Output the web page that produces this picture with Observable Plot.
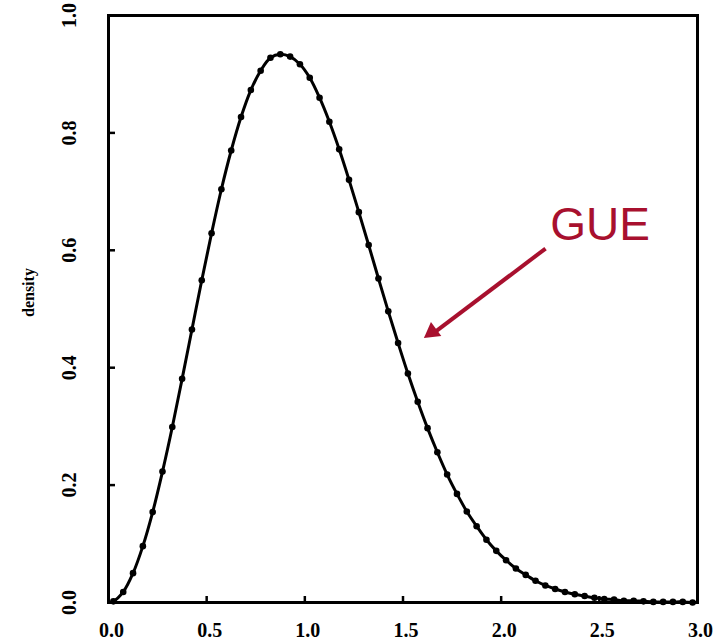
<!DOCTYPE html>
<html>
<head>
<meta charset="utf-8">
<script src="https://cdn.jsdelivr.net/npm/d3@7"></script>
<script src="https://cdn.jsdelivr.net/npm/@observablehq/plot@0.6"></script>
<style>
  html, body { margin: 0; padding: 0; background: #fff; }
</style>
</head>
<body>
<div id="chart"></div>
<script>
// spacing s (bin midpoints) and estimated density values
const spacing = [0.025,0.075,0.125,0.175,0.225,0.275,0.325,0.375,0.425,0.475,
  0.525,0.575,0.625,0.675,0.725,0.775,0.825,0.875,0.925,0.975,
  1.025,1.075,1.125,1.175,1.225,1.275,1.325,1.375,1.425,1.475,
  1.525,1.575,1.625,1.675,1.725,1.775,1.825,1.875,1.925,1.975,
  2.025,2.075,2.125,2.175,2.225,2.275,2.325,2.375,2.425,2.475,
  2.525,2.575,2.625,2.675,2.725,2.775,2.825,2.875,2.925,2.975];
const density = [0.002,0.018,0.050,0.096,0.154,0.223,0.299,0.381,0.465,0.549,
  0.629,0.704,0.770,0.827,0.873,0.906,0.928,0.934,0.930,0.917,
  0.894,0.860,0.819,0.772,0.720,0.665,0.609,0.552,0.496,0.442,
  0.390,0.342,0.297,0.256,0.218,0.185,0.155,0.130,0.107,0.088,
  0.072,0.058,0.047,0.037,0.029,0.023,0.018,0.014,0.011,0.008,
  0.006,0.005,0.003,0.003,0.002,0.001,0.001,0.001,0.001,0.000];
const curveStart = {s: 0, p: 0};
const curveEnd = {s: 3.0, p: 0};
const xTicks = [0, 0.5, 1.0, 1.5, 2.0, 2.5, 3.0];
const yTicks = [0, 0.2, 0.4, 0.6, 0.8, 1.0];
const yLabel = "density";
const annotationText = "GUE";
// arrow: tail -> head centroid, and head (triangle) centroid with direction
const annotationArrow = [{x1: 2.226, y1: 0.603, x2: 1.652, y2: 0.458}];
const arrowHead = [{x: 1.648, y: 0.4608, angle: 233.7}];
const annotationPos = [{x: 2.25, y: 0.642}];

const points = spacing.map((s, i) => ({s, p: density[i]}));
const linePts = [curveStart, ...points, curveEnd];
const red = "#a8102e";
const fmt = d3.format(".1f");

const chart = Plot.plot({
  width: 714,
  height: 643,
  marginLeft: 108,
  marginRight: 17,
  marginTop: 15,
  marginBottom: 41,
  x: {domain: [0, 3], axis: null},
  y: {domain: [0, 1], axis: null},
  style: {background: "#fff"},
  marks: [
    Plot.frame({stroke: "#000", strokeWidth: 3}),
    Plot.axisX({ticks: xTicks, tickSize: -6, strokeWidth: 2.5, text: null, anchor: "bottom"}),
    Plot.axisY({ticks: yTicks, tickSize: -7, strokeWidth: 2.5, text: null, anchor: "left"}),
    Plot.text(xTicks, {x: d => d, y: () => 0, text: d => fmt(d), dy: 28, dx: 3,
      fontSize: 20, fontWeight: "bold", fontFamily: "Liberation Serif", fill: "#000"}),
    Plot.text(yTicks, {x: () => 0, y: d => d, text: d => fmt(d), dx: -39, rotate: -90,
      fontSize: 20, fontWeight: "bold", fontFamily: "Liberation Serif", fill: "#000"}),
    Plot.text([yLabel], {x: () => 0, y: () => 0.528, text: d => d, dx: -80, rotate: -90,
      fontSize: 16, fontWeight: "bold", fontFamily: "Liberation Serif", fill: "#000"}),
    Plot.line(linePts, {x: "s", y: "p", stroke: "#000", strokeWidth: 3, curve: "catmull-rom"}),
    Plot.dot(points, {x: "s", y: "p", r: 3.3, fill: "#000", stroke: "none"}),
    Plot.link(annotationArrow, {x1: "x1", y1: "y1", x2: "x2", y2: "y2", stroke: red,
      strokeWidth: 4}),
    Plot.dot(arrowHead, {x: "x", y: "y", symbol: "triangle", r: 6.5, rotate: "angle",
      fill: red, stroke: "none"}),
    Plot.text(annotationPos, {x: "x", y: "y", text: () => annotationText, textAnchor: "start",
      fontSize: 46, fontFamily: "Liberation Sans", fill: red})
  ]
});
document.getElementById("chart").appendChild(chart);
</script>
</body>
</html>
